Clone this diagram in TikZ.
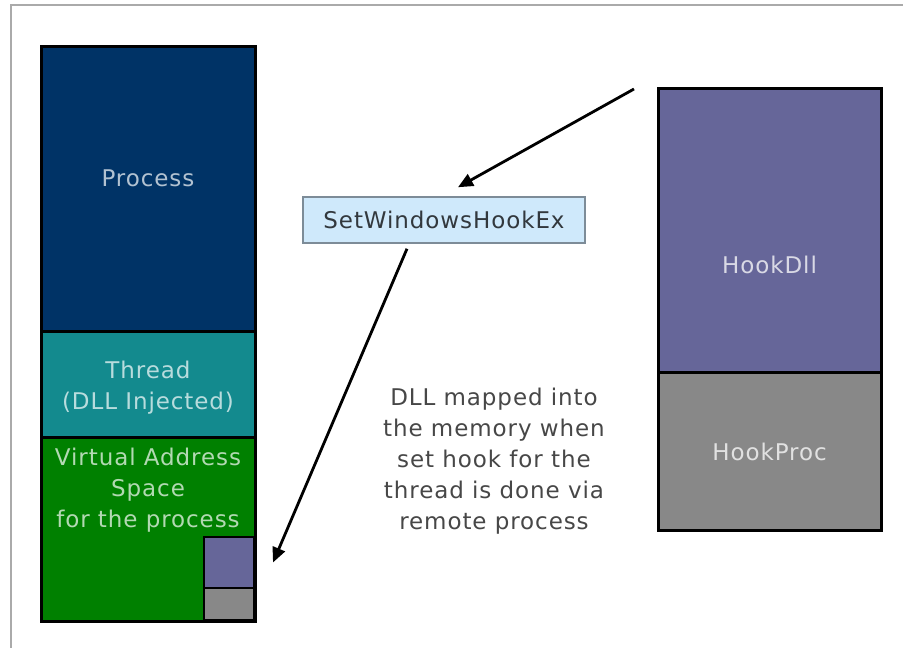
\documentclass[tikz,border=0pt]{standalone}
\usepackage{fontspec}
\setmainfont{DejaVu Sans}[LetterSpace=4]
\usetikzlibrary{arrows.meta,calc}

\definecolor{procblue}{HTML}{003366}
\definecolor{threadteal}{HTML}{138A8E}
\definecolor{vasgreen}{HTML}{008000}
\definecolor{dllpurple}{HTML}{666699}
\definecolor{procgray}{HTML}{888888}
\definecolor{apifill}{HTML}{CFE9FB}
\definecolor{apiborder}{HTML}{7D8C98}
\definecolor{framegray}{HTML}{AAAAAA}

\tikzset{
  block/.style={draw=black, line width=3pt, inner sep=0pt, outer sep=0pt},
  minibox/.style={draw=black, line width=2.2pt, inner sep=0pt, outer sep=0pt,
    minimum width=50pt},
  lbl/.style={font=\fontsize{23}{31}\selectfont, align=center, inner sep=0pt},
  arr/.style={draw=black, line width=2.8pt,
    -{Triangle[length=15pt,width=13pt]}},
}

\begin{document}
\begin{tikzpicture}[x=1pt, y=-1pt]
  \useasboundingbox (0,0) rectangle (903,648);

  % page frame
  \draw[framegray, line width=2.6pt] (11,648) -- (11,5) -- (903,5);

  % target process column
  \node[block, fill=procblue, minimum width=214pt, minimum height=285pt]
    (process) at (148,188.5) {};
  \node[block, fill=threadteal, minimum width=214pt, minimum height=106pt]
    (thread) at (148,384) {};
  \node[block, fill=vasgreen, minimum width=214pt, minimum height=184pt]
    (vas) at (148,529) {};

  % DLL copy mapped into the address space
  \node[minibox, fill=dllpurple, minimum height=51pt] (dllcopy) at (229,562.5) {};
  \node[minibox, fill=procgray, minimum height=32pt] (proccopy) at (229,604) {};
  \draw[black, line width=3pt] (41,621) -- (255,621) -- (255,437);

  \node[lbl, text=procblue!30!white] (processlbl) at (148,178) {Process};
  \node[lbl, text=threadteal!30!white] (threadlbl) at (148,388) {Thread\\(DLL Injected)};
  \node[lbl, text=vasgreen!30!white] (vaslbl) at (148,490)
    {Virtual Address\\Space\\for the process};

  % hook DLL column
  \node[block, fill=dllpurple, minimum width=223pt, minimum height=284pt]
    (hookdll) at (769.5,230) {};
  \node[block, fill=procgray, minimum width=223pt, minimum height=158pt]
    (hookproc) at (769.5,451) {};
  \node[lbl, text=dllpurple!25!white] (hookdlllbl) at (769.5,265) {HookDll};
  \node[lbl, text=procgray!25!white] (hookproclbl) at (769.5,452) {HookProc};

  % API call
  \node[draw=apiborder, fill=apifill, line width=1.5pt, minimum width=282pt,
    minimum height=46pt, inner sep=0pt] (api) at (444,220) {};
  \node[lbl, text=black!60!apiborder] (apilbl) at (444,220) {SetWindowsHookEx};

  % explanation
  \node[lbl, text=black!72] (note) at (494,461)
    {DLL mapped into\\the memory when\\set hook for the\\thread is done via\\remote process};

  % connectors
  \coordinate (caller) at (634,89);
  \draw[arr] (caller) -- ([xshift=14pt,yshift=9pt]api.north);
  \draw[arr] ([xshift=-37pt,yshift=-5pt]api.south) -- ([xshift=19pt]dllcopy.east);
\end{tikzpicture}
\end{document}
